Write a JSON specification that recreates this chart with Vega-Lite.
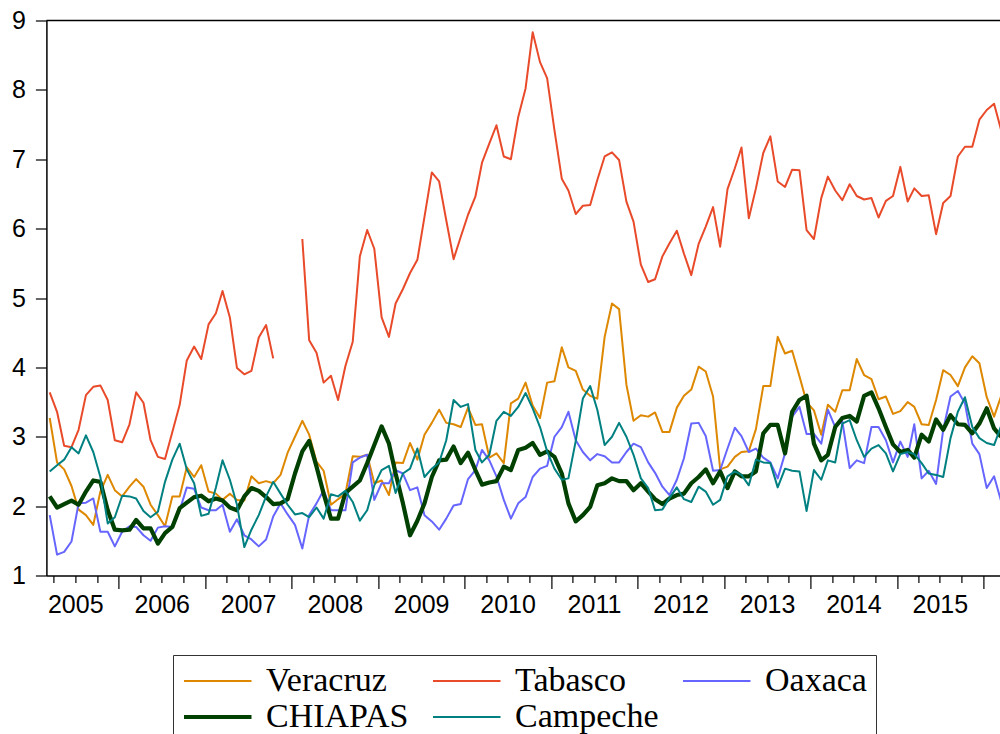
{
  "$schema": "https://vega.github.io/schema/vega-lite/v6.json",
  "width": 953.6,
  "height": 555,
  "autosize": {"type": "none"},
  "padding": {"left": 46.4, "top": 20.5, "right": 0, "bottom": 158.5},
  "config": {"view": {"stroke": null}, "font": "Liberation Sans"},
  "data": {"values": [
    {"date":"2005-03-15","Veracruz":3.27,"Tabasco":3.64,"Oaxaca":1.87,"CHIAPAS":2.14,"Campeche":2.50},
    {"date":"2005-04-15","Veracruz":2.63,"Tabasco":3.36,"Oaxaca":1.30,"CHIAPAS":1.98,"Campeche":2.59},
    {"date":"2005-05-15","Veracruz":2.53,"Tabasco":2.87,"Oaxaca":1.34,"CHIAPAS":2.03,"Campeche":2.67},
    {"date":"2005-06-15","Veracruz":2.29,"Tabasco":2.85,"Oaxaca":1.49,"CHIAPAS":2.08,"Campeche":2.85},
    {"date":"2005-07-15","Veracruz":1.95,"Tabasco":3.10,"Oaxaca":2.04,"CHIAPAS":2.02,"Campeche":2.76},
    {"date":"2005-08-15","Veracruz":1.87,"Tabasco":3.60,"Oaxaca":2.05,"CHIAPAS":2.21,"Campeche":3.02},
    {"date":"2005-09-15","Veracruz":1.73,"Tabasco":3.72,"Oaxaca":2.11,"CHIAPAS":2.37,"Campeche":2.78},
    {"date":"2005-10-15","Veracruz":2.21,"Tabasco":3.74,"Oaxaca":1.63,"CHIAPAS":2.35,"Campeche":2.42},
    {"date":"2005-11-15","Veracruz":2.45,"Tabasco":3.53,"Oaxaca":1.63,"CHIAPAS":1.94,"Campeche":1.75},
    {"date":"2005-12-15","Veracruz":2.23,"Tabasco":2.95,"Oaxaca":1.42,"CHIAPAS":1.66,"Campeche":1.84},
    {"date":"2006-01-15","Veracruz":2.14,"Tabasco":2.92,"Oaxaca":1.63,"CHIAPAS":1.65,"Campeche":2.15},
    {"date":"2006-02-15","Veracruz":2.28,"Tabasco":3.18,"Oaxaca":1.71,"CHIAPAS":1.66,"Campeche":2.14},
    {"date":"2006-03-15","Veracruz":2.39,"Tabasco":3.64,"Oaxaca":1.70,"CHIAPAS":1.80,"Campeche":2.11},
    {"date":"2006-04-15","Veracruz":2.28,"Tabasco":3.49,"Oaxaca":1.58,"CHIAPAS":1.68,"Campeche":1.93},
    {"date":"2006-05-15","Veracruz":2.02,"Tabasco":2.95,"Oaxaca":1.50,"CHIAPAS":1.68,"Campeche":1.84},
    {"date":"2006-06-15","Veracruz":1.87,"Tabasco":2.71,"Oaxaca":1.69,"CHIAPAS":1.46,"Campeche":1.92},
    {"date":"2006-07-15","Veracruz":1.71,"Tabasco":2.68,"Oaxaca":1.71,"CHIAPAS":1.61,"Campeche":2.35},
    {"date":"2006-08-15","Veracruz":2.14,"Tabasco":3.07,"Oaxaca":1.70,"CHIAPAS":1.70,"Campeche":2.67},
    {"date":"2006-09-15","Veracruz":2.14,"Tabasco":3.46,"Oaxaca":1.94,"CHIAPAS":1.97,"Campeche":2.90},
    {"date":"2006-10-15","Veracruz":2.56,"Tabasco":4.10,"Oaxaca":2.27,"CHIAPAS":2.05,"Campeche":2.53},
    {"date":"2006-11-15","Veracruz":2.42,"Tabasco":4.30,"Oaxaca":2.25,"CHIAPAS":2.13,"Campeche":2.33},
    {"date":"2006-12-15","Veracruz":2.59,"Tabasco":4.12,"Oaxaca":1.98,"CHIAPAS":2.15,"Campeche":1.86},
    {"date":"2007-01-15","Veracruz":2.21,"Tabasco":4.62,"Oaxaca":1.94,"CHIAPAS":2.07,"Campeche":1.89},
    {"date":"2007-02-15","Veracruz":2.18,"Tabasco":4.78,"Oaxaca":1.94,"CHIAPAS":2.11,"Campeche":2.27},
    {"date":"2007-03-15","Veracruz":2.09,"Tabasco":5.10,"Oaxaca":2.02,"CHIAPAS":2.08,"Campeche":2.66},
    {"date":"2007-04-15","Veracruz":2.18,"Tabasco":4.72,"Oaxaca":1.63,"CHIAPAS":1.98,"Campeche":2.38},
    {"date":"2007-05-15","Veracruz":2.09,"Tabasco":3.99,"Oaxaca":1.81,"CHIAPAS":1.94,"Campeche":2.02},
    {"date":"2007-06-15","Veracruz":2.08,"Tabasco":3.90,"Oaxaca":1.58,"CHIAPAS":2.14,"Campeche":1.41},
    {"date":"2007-07-15","Veracruz":2.43,"Tabasco":3.95,"Oaxaca":1.52,"CHIAPAS":2.26,"Campeche":1.66},
    {"date":"2007-08-15","Veracruz":2.33,"Tabasco":4.43,"Oaxaca":1.42,"CHIAPAS":2.22,"Campeche":1.87},
    {"date":"2007-09-15","Veracruz":2.36,"Tabasco":4.61,"Oaxaca":1.52,"CHIAPAS":2.13,"Campeche":2.14},
    {"date":"2007-10-15","Veracruz":2.33,"Tabasco":4.13,"Oaxaca":1.85,"CHIAPAS":2.03,"Campeche":2.35},
    {"date":"2007-11-15","Veracruz":2.45,"Tabasco":null,"Oaxaca":2.04,"CHIAPAS":2.04,"Campeche":2.18},
    {"date":"2007-12-15","Veracruz":2.77,"Tabasco":null,"Oaxaca":1.88,"CHIAPAS":2.10,"Campeche":2.02},
    {"date":"2008-01-15","Veracruz":3.00,"Tabasco":null,"Oaxaca":1.73,"CHIAPAS":2.47,"Campeche":1.88},
    {"date":"2008-02-15","Veracruz":3.23,"Tabasco":5.85,"Oaxaca":1.39,"CHIAPAS":2.79,"Campeche":1.90},
    {"date":"2008-03-15","Veracruz":3.03,"Tabasco":4.39,"Oaxaca":1.87,"CHIAPAS":2.94,"Campeche":1.84},
    {"date":"2008-04-15","Veracruz":2.64,"Tabasco":4.21,"Oaxaca":2.04,"CHIAPAS":2.57,"Campeche":1.98},
    {"date":"2008-05-15","Veracruz":2.51,"Tabasco":3.78,"Oaxaca":2.23,"CHIAPAS":2.18,"Campeche":1.82},
    {"date":"2008-06-15","Veracruz":2.02,"Tabasco":3.88,"Oaxaca":1.94,"CHIAPAS":1.82,"Campeche":2.17},
    {"date":"2008-07-15","Veracruz":2.10,"Tabasco":3.53,"Oaxaca":1.94,"CHIAPAS":1.82,"Campeche":2.14},
    {"date":"2008-08-15","Veracruz":2.18,"Tabasco":4.02,"Oaxaca":1.94,"CHIAPAS":2.19,"Campeche":2.22},
    {"date":"2008-09-15","Veracruz":2.72,"Tabasco":4.37,"Oaxaca":2.63,"CHIAPAS":2.28,"Campeche":2.06},
    {"date":"2008-10-15","Veracruz":2.71,"Tabasco":5.60,"Oaxaca":2.70,"CHIAPAS":2.37,"Campeche":1.79},
    {"date":"2008-11-15","Veracruz":2.74,"Tabasco":5.98,"Oaxaca":2.74,"CHIAPAS":2.62,"Campeche":1.94},
    {"date":"2008-12-15","Veracruz":2.33,"Tabasco":5.71,"Oaxaca":2.09,"CHIAPAS":2.88,"Campeche":2.30},
    {"date":"2009-01-15","Veracruz":2.37,"Tabasco":4.72,"Oaxaca":2.33,"CHIAPAS":3.15,"Campeche":2.52},
    {"date":"2009-02-15","Veracruz":2.16,"Tabasco":4.44,"Oaxaca":2.33,"CHIAPAS":2.90,"Campeche":2.58},
    {"date":"2009-03-15","Veracruz":2.63,"Tabasco":4.92,"Oaxaca":2.52,"CHIAPAS":2.47,"Campeche":2.19},
    {"date":"2009-04-15","Veracruz":2.62,"Tabasco":5.13,"Oaxaca":2.47,"CHIAPAS":2.04,"Campeche":2.47},
    {"date":"2009-05-15","Veracruz":2.91,"Tabasco":5.36,"Oaxaca":2.23,"CHIAPAS":1.58,"Campeche":2.54},
    {"date":"2009-06-15","Veracruz":2.67,"Tabasco":5.55,"Oaxaca":2.27,"CHIAPAS":1.79,"Campeche":2.83},
    {"date":"2009-07-15","Veracruz":3.03,"Tabasco":6.17,"Oaxaca":1.87,"CHIAPAS":2.04,"Campeche":2.42},
    {"date":"2009-08-15","Veracruz":3.20,"Tabasco":6.81,"Oaxaca":1.78,"CHIAPAS":2.42,"Campeche":2.54},
    {"date":"2009-09-15","Veracruz":3.39,"Tabasco":6.68,"Oaxaca":1.66,"CHIAPAS":2.66,"Campeche":2.63},
    {"date":"2009-10-15","Veracruz":3.20,"Tabasco":6.12,"Oaxaca":1.82,"CHIAPAS":2.67,"Campeche":2.95},
    {"date":"2009-11-15","Veracruz":3.18,"Tabasco":5.56,"Oaxaca":2.01,"CHIAPAS":2.86,"Campeche":3.53},
    {"date":"2009-12-15","Veracruz":3.14,"Tabasco":5.88,"Oaxaca":2.03,"CHIAPAS":2.62,"Campeche":3.43},
    {"date":"2010-01-15","Veracruz":3.42,"Tabasco":6.20,"Oaxaca":2.39,"CHIAPAS":2.77,"Campeche":3.47},
    {"date":"2010-02-15","Veracruz":3.17,"Tabasco":6.46,"Oaxaca":2.52,"CHIAPAS":2.52,"Campeche":2.81},
    {"date":"2010-03-15","Veracruz":3.18,"Tabasco":6.95,"Oaxaca":2.81,"CHIAPAS":2.31,"Campeche":2.63},
    {"date":"2010-04-15","Veracruz":2.70,"Tabasco":7.23,"Oaxaca":2.66,"CHIAPAS":2.34,"Campeche":2.74},
    {"date":"2010-05-15","Veracruz":2.76,"Tabasco":7.49,"Oaxaca":2.43,"CHIAPAS":2.36,"Campeche":3.23},
    {"date":"2010-06-15","Veracruz":2.62,"Tabasco":7.04,"Oaxaca":2.09,"CHIAPAS":2.57,"Campeche":3.36},
    {"date":"2010-07-15","Veracruz":3.48,"Tabasco":7.00,"Oaxaca":1.82,"CHIAPAS":2.52,"Campeche":3.30},
    {"date":"2010-08-15","Veracruz":3.55,"Tabasco":7.61,"Oaxaca":2.04,"CHIAPAS":2.81,"Campeche":3.43},
    {"date":"2010-09-15","Veracruz":3.78,"Tabasco":8.02,"Oaxaca":2.13,"CHIAPAS":2.84,"Campeche":3.63},
    {"date":"2010-10-15","Veracruz":3.45,"Tabasco":8.83,"Oaxaca":2.42,"CHIAPAS":2.91,"Campeche":3.41},
    {"date":"2010-11-15","Veracruz":3.27,"Tabasco":8.40,"Oaxaca":2.54,"CHIAPAS":2.74,"Campeche":3.14},
    {"date":"2010-12-15","Veracruz":3.78,"Tabasco":8.17,"Oaxaca":2.58,"CHIAPAS":2.79,"Campeche":2.79},
    {"date":"2011-01-15","Veracruz":3.80,"Tabasco":7.42,"Oaxaca":3.00,"CHIAPAS":2.71,"Campeche":2.54},
    {"date":"2011-02-15","Veracruz":4.29,"Tabasco":6.72,"Oaxaca":3.14,"CHIAPAS":2.47,"Campeche":2.38},
    {"date":"2011-03-15","Veracruz":4.00,"Tabasco":6.55,"Oaxaca":3.36,"CHIAPAS":2.04,"Campeche":2.40},
    {"date":"2011-04-15","Veracruz":3.95,"Tabasco":6.21,"Oaxaca":2.95,"CHIAPAS":1.78,"Campeche":2.94},
    {"date":"2011-05-15","Veracruz":3.68,"Tabasco":6.33,"Oaxaca":2.78,"CHIAPAS":1.87,"Campeche":3.55},
    {"date":"2011-06-15","Veracruz":3.59,"Tabasco":6.34,"Oaxaca":2.66,"CHIAPAS":1.99,"Campeche":3.73},
    {"date":"2011-07-15","Veracruz":3.55,"Tabasco":6.70,"Oaxaca":2.75,"CHIAPAS":2.30,"Campeche":3.39},
    {"date":"2011-08-15","Veracruz":4.44,"Tabasco":7.04,"Oaxaca":2.72,"CHIAPAS":2.33,"Campeche":2.88},
    {"date":"2011-09-15","Veracruz":4.92,"Tabasco":7.10,"Oaxaca":2.63,"CHIAPAS":2.40,"Campeche":3.00},
    {"date":"2011-10-15","Veracruz":4.84,"Tabasco":6.99,"Oaxaca":2.63,"CHIAPAS":2.36,"Campeche":3.20},
    {"date":"2011-11-15","Veracruz":3.75,"Tabasco":6.39,"Oaxaca":2.78,"CHIAPAS":2.36,"Campeche":3.00},
    {"date":"2011-12-15","Veracruz":3.23,"Tabasco":6.10,"Oaxaca":2.90,"CHIAPAS":2.23,"Campeche":2.74},
    {"date":"2012-01-15","Veracruz":3.31,"Tabasco":5.48,"Oaxaca":2.85,"CHIAPAS":2.33,"Campeche":2.40},
    {"date":"2012-02-15","Veracruz":3.29,"Tabasco":5.23,"Oaxaca":2.63,"CHIAPAS":2.21,"Campeche":2.26},
    {"date":"2012-03-15","Veracruz":3.35,"Tabasco":5.27,"Oaxaca":2.48,"CHIAPAS":2.10,"Campeche":1.94},
    {"date":"2012-04-15","Veracruz":3.07,"Tabasco":5.60,"Oaxaca":2.28,"CHIAPAS":2.03,"Campeche":1.95},
    {"date":"2012-05-15","Veracruz":3.07,"Tabasco":5.79,"Oaxaca":2.16,"CHIAPAS":2.11,"Campeche":2.12},
    {"date":"2012-06-15","Veracruz":3.42,"Tabasco":5.97,"Oaxaca":2.38,"CHIAPAS":2.16,"Campeche":2.27},
    {"date":"2012-07-15","Veracruz":3.59,"Tabasco":5.64,"Oaxaca":2.69,"CHIAPAS":2.18,"Campeche":2.10},
    {"date":"2012-08-15","Veracruz":3.68,"Tabasco":5.33,"Oaxaca":3.19,"CHIAPAS":2.33,"Campeche":2.06},
    {"date":"2012-09-15","Veracruz":4.01,"Tabasco":5.78,"Oaxaca":3.20,"CHIAPAS":2.42,"Campeche":2.28},
    {"date":"2012-10-15","Veracruz":3.94,"Tabasco":6.03,"Oaxaca":3.01,"CHIAPAS":2.53,"Campeche":2.21},
    {"date":"2012-11-15","Veracruz":3.58,"Tabasco":6.31,"Oaxaca":2.51,"CHIAPAS":2.33,"Campeche":2.02},
    {"date":"2012-12-15","Veracruz":2.53,"Tabasco":5.74,"Oaxaca":2.52,"CHIAPAS":2.50,"Campeche":2.09},
    {"date":"2013-01-15","Veracruz":2.57,"Tabasco":6.57,"Oaxaca":2.83,"CHIAPAS":2.26,"Campeche":2.43},
    {"date":"2013-02-15","Veracruz":2.71,"Tabasco":6.87,"Oaxaca":3.13,"CHIAPAS":2.50,"Campeche":2.50},
    {"date":"2013-03-15","Veracruz":2.78,"Tabasco":7.17,"Oaxaca":3.01,"CHIAPAS":2.43,"Campeche":2.45},
    {"date":"2013-04-15","Veracruz":2.79,"Tabasco":6.15,"Oaxaca":2.78,"CHIAPAS":2.43,"Campeche":2.30},
    {"date":"2013-05-15","Veracruz":3.11,"Tabasco":6.58,"Oaxaca":2.83,"CHIAPAS":2.50,"Campeche":2.67},
    {"date":"2013-06-15","Veracruz":3.73,"Tabasco":7.09,"Oaxaca":2.70,"CHIAPAS":3.05,"Campeche":2.63},
    {"date":"2013-07-15","Veracruz":3.73,"Tabasco":7.33,"Oaxaca":2.63,"CHIAPAS":3.17,"Campeche":2.62},
    {"date":"2013-08-15","Veracruz":4.44,"Tabasco":6.68,"Oaxaca":2.40,"CHIAPAS":3.17,"Campeche":2.27},
    {"date":"2013-09-15","Veracruz":4.20,"Tabasco":6.60,"Oaxaca":2.76,"CHIAPAS":2.76,"Campeche":2.54},
    {"date":"2013-10-15","Veracruz":4.24,"Tabasco":6.85,"Oaxaca":3.29,"CHIAPAS":3.36,"Campeche":2.51},
    {"date":"2013-11-15","Veracruz":3.87,"Tabasco":6.84,"Oaxaca":3.43,"CHIAPAS":3.53,"Campeche":2.50},
    {"date":"2013-12-15","Veracruz":3.50,"Tabasco":5.98,"Oaxaca":3.04,"CHIAPAS":3.59,"Campeche":1.93},
    {"date":"2014-01-15","Veracruz":3.38,"Tabasco":5.85,"Oaxaca":3.04,"CHIAPAS":2.90,"Campeche":2.52},
    {"date":"2014-02-15","Veracruz":3.03,"Tabasco":6.44,"Oaxaca":2.90,"CHIAPAS":2.66,"Campeche":2.38},
    {"date":"2014-03-15","Veracruz":3.46,"Tabasco":6.75,"Oaxaca":3.39,"CHIAPAS":2.74,"Campeche":2.66},
    {"date":"2014-04-15","Veracruz":3.36,"Tabasco":6.55,"Oaxaca":3.14,"CHIAPAS":3.14,"Campeche":2.63},
    {"date":"2014-05-15","Veracruz":3.67,"Tabasco":6.41,"Oaxaca":3.22,"CHIAPAS":3.27,"Campeche":3.19},
    {"date":"2014-06-15","Veracruz":3.67,"Tabasco":6.64,"Oaxaca":2.55,"CHIAPAS":3.30,"Campeche":3.24},
    {"date":"2014-07-15","Veracruz":4.12,"Tabasco":6.47,"Oaxaca":2.66,"CHIAPAS":3.22,"Campeche":2.95},
    {"date":"2014-08-15","Veracruz":3.89,"Tabasco":6.42,"Oaxaca":2.62,"CHIAPAS":3.59,"Campeche":2.71},
    {"date":"2014-09-15","Veracruz":3.83,"Tabasco":6.44,"Oaxaca":3.14,"CHIAPAS":3.64,"Campeche":2.83},
    {"date":"2014-10-15","Veracruz":3.54,"Tabasco":6.16,"Oaxaca":3.14,"CHIAPAS":3.41,"Campeche":2.88},
    {"date":"2014-11-15","Veracruz":3.58,"Tabasco":6.40,"Oaxaca":2.95,"CHIAPAS":3.14,"Campeche":2.76},
    {"date":"2014-12-15","Veracruz":3.33,"Tabasco":6.47,"Oaxaca":2.63,"CHIAPAS":2.89,"Campeche":2.50},
    {"date":"2015-01-15","Veracruz":3.37,"Tabasco":6.89,"Oaxaca":2.93,"CHIAPAS":2.78,"Campeche":2.75},
    {"date":"2015-02-15","Veracruz":3.50,"Tabasco":6.39,"Oaxaca":2.71,"CHIAPAS":2.81,"Campeche":2.78},
    {"date":"2015-03-15","Veracruz":3.43,"Tabasco":6.58,"Oaxaca":3.18,"CHIAPAS":2.70,"Campeche":2.75},
    {"date":"2015-04-15","Veracruz":3.18,"Tabasco":6.47,"Oaxaca":2.40,"CHIAPAS":3.03,"Campeche":2.62},
    {"date":"2015-05-15","Veracruz":3.17,"Tabasco":6.48,"Oaxaca":2.51,"CHIAPAS":2.93,"Campeche":2.47},
    {"date":"2015-06-15","Veracruz":3.53,"Tabasco":5.92,"Oaxaca":2.32,"CHIAPAS":3.25,"Campeche":2.45},
    {"date":"2015-07-15","Veracruz":3.96,"Tabasco":6.37,"Oaxaca":3.10,"CHIAPAS":3.10,"Campeche":2.42},
    {"date":"2015-08-15","Veracruz":3.89,"Tabasco":6.47,"Oaxaca":3.58,"CHIAPAS":3.31,"Campeche":2.98},
    {"date":"2015-09-15","Veracruz":3.73,"Tabasco":7.04,"Oaxaca":3.66,"CHIAPAS":3.18,"Campeche":3.36},
    {"date":"2015-10-15","Veracruz":4.00,"Tabasco":7.18,"Oaxaca":3.48,"CHIAPAS":3.17,"Campeche":3.57},
    {"date":"2015-11-15","Veracruz":4.16,"Tabasco":7.18,"Oaxaca":2.90,"CHIAPAS":3.05,"Campeche":3.14},
    {"date":"2015-12-15","Veracruz":4.06,"Tabasco":7.57,"Oaxaca":2.75,"CHIAPAS":3.19,"Campeche":2.98},
    {"date":"2016-01-15","Veracruz":3.57,"Tabasco":7.71,"Oaxaca":2.26,"CHIAPAS":3.41,"Campeche":2.91},
    {"date":"2016-02-15","Veracruz":3.29,"Tabasco":7.80,"Oaxaca":2.43,"CHIAPAS":3.12,"Campeche":2.88},
    {"date":"2016-03-15","Veracruz":3.58,"Tabasco":7.43,"Oaxaca":2.08,"CHIAPAS":3.00,"Campeche":3.15}
  ]},
  "layer": [
    {
      "data": {"values": [{}]},
      "mark": {"type": "rule", "color": "black", "strokeWidth": 1.5},
      "encoding": {"y": {"datum": 9, "type": "quantitative"}}
    },
    {
      "transform": [
        {"fold": ["Veracruz", "Tabasco", "Oaxaca", "CHIAPAS", "Campeche"], "as": ["series", "value"]}
      ],
      "mark": {"type": "line", "clip": true, "strokeJoin": "round"},
      "encoding": {
        "x": {
          "field": "date",
          "type": "temporal",
          "scale": {"type": "utc", "domain": [{"year": 2005, "month": 3, "date": 1, "utc": true}, {"year": 2016, "month": 3, "date": 11, "utc": true}]},
          "axis": {
            "title": null,
            "grid": false,
            "tickCount": {"interval": "month", "step": 3},
            "labelExpr": "utcFormat(datum.value, '%m') == '07' ? utcFormat(datum.value, '%Y') : ''",
            "labelOverlap": false,
            "labelFlush": false,
            "labelFont": "Liberation Sans",
            "labelFontSize": 25,
            "labelColor": "black",
            "labelPadding": 10,
            "tickColor": "black",
            "tickWidth": 1.2,
            "tickSize": {"condition": {"test": "utcFormat(datum.value, '%m') == '01'", "value": 13}, "value": 7},
            "domainColor": "black",
            "domainWidth": 1.5
          }
        },
        "y": {
          "field": "value",
          "type": "quantitative",
          "scale": {"domain": [1, 9], "nice": false, "zero": false},
          "axis": {
            "title": null,
            "grid": false,
            "values": [1, 2, 3, 4, 5, 6, 7, 8, 9],
            "format": "d",
            "labelFont": "Liberation Sans",
            "labelFontSize": 25,
            "labelColor": "black",
            "labelPadding": 10,
            "tickSize": 11,
            "tickColor": "black",
            "tickWidth": 1.2,
            "domainColor": "black",
            "domainWidth": 1.5
          }
        },
        "color": {
          "field": "series",
          "type": "nominal",
          "scale": {
            "domain": ["Veracruz", "Tabasco", "Oaxaca", "CHIAPAS", "Campeche"],
            "range": ["#DD8800", "#E84A2A", "#6666FF", "#004000", "#008080"]
          },
          "legend": {
            "title": null,
            "orient": "none",
            "legendX": 126.6,
            "legendY": 634.5,
            "direction": "horizontal",
            "columns": 3,
            "symbolType": "M-1,0H3.5",
            "symbolSize": 900,
            "symbolStrokeWidth": 2,
            "labelFont": "Liberation Serif",
            "labelFontSize": 34,
            "labelColor": "black",
            "labelOffset": 50,
            "labelLimit": 300,
            "strokeColor": "#333333",
            "padding": 9,
            "columnPadding": 20,
            "rowPadding": 2,
            "encode": {
              "symbols": {"update": {"strokeWidth": {"signal": "datum.value === 'CHIAPAS' ? 4.2 : 2"}}}
            }
          }
        },
        "strokeWidth": {
          "condition": {"test": "datum.series === 'CHIAPAS'", "value": 4.2},
          "value": 2
        }
      }
    }
  ]
}
